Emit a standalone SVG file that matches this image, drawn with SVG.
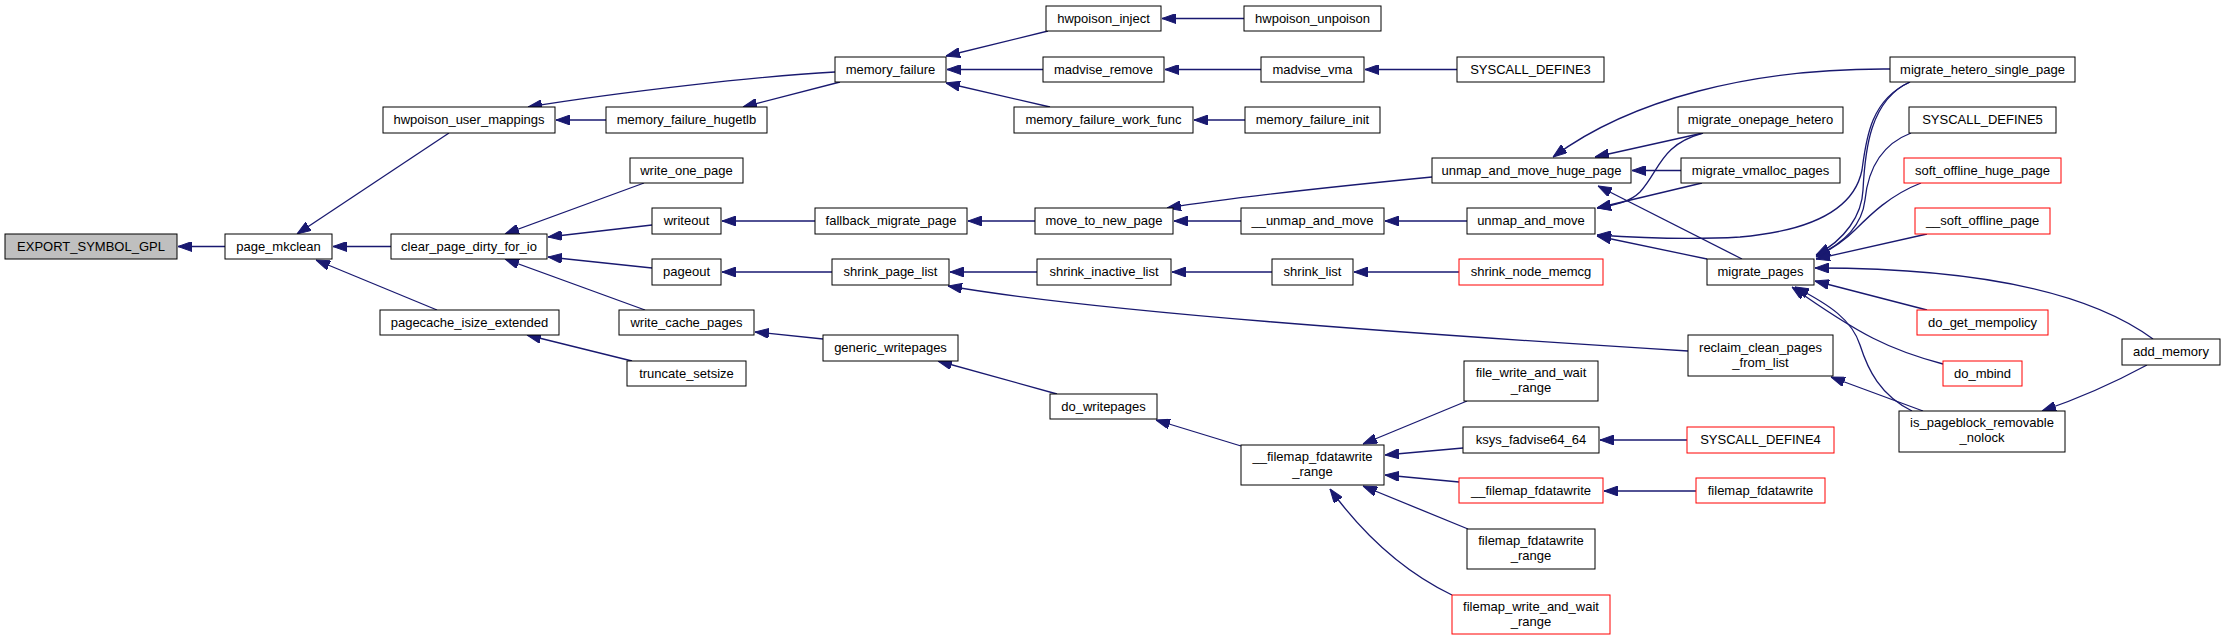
<svg xmlns="http://www.w3.org/2000/svg" width="2225" height="641" viewBox="0 0 2225 641">
<defs>
<style>
.node rect{fill:#fff;stroke:#000;stroke-width:1}
.node.root rect{fill:#bfbfbf}
.node.red rect{stroke:#ff0000}
.node text{font-family:"Liberation Sans",Arial,sans-serif;font-size:13px;fill:#000;text-anchor:middle}
.edges path{fill:none;stroke:#191970;stroke-width:1.3;marker-end:url(#ah)}
</style>
<marker id="ah" markerUnits="userSpaceOnUse" markerWidth="14" markerHeight="10" refX="14" refY="5" orient="auto">
<path d="M0,0 L14,5 L0,10 Z" fill="#191970" stroke="#191970" stroke-width="1"/>
</marker>
</defs>
<rect width="2225" height="641" fill="#fff"/>
<g id="edges" class="edges">
<path d="M225,246.5 L178,246.5"/>
<path d="M449,133 L297,234"/>
<path d="M391,246.5 L333,246.5"/>
<path d="M437,310 L316,260"/>
<path d="M835,72 C760,76 620,92 528,107"/>
<path d="M606,120 L556,120"/>
<path d="M840,82 L743,107"/>
<path d="M644,183 L505,234"/>
<path d="M652,225 L548,237"/>
<path d="M652,268 L548,257"/>
<path d="M645,310 L505,259"/>
<path d="M815,221 L722,221"/>
<path d="M832,272 L722,272"/>
<path d="M632,361 L527,335"/>
<path d="M823,339 L755,332"/>
<path d="M1057,394 L938,361"/>
<path d="M1048,31 L946,56"/>
<path d="M1043,69.5 L947,69.5"/>
<path d="M1050,107 L946,83"/>
<path d="M1035,221 L968,221"/>
<path d="M1037,272 L950,272"/>
<path d="M1688,351 C1400,333 1100,312 948,286"/>
<path d="M1244,18.5 L1162,18.5"/>
<path d="M1261,69.5 L1165,69.5"/>
<path d="M1457,69.5 L1365,69.5"/>
<path d="M1245,120 L1194,120"/>
<path d="M1432,177 C1340,186 1240,196 1167,208"/>
<path d="M1241,221 L1174,221"/>
<path d="M1467,221 L1385,221"/>
<path d="M1272,272 L1172,272"/>
<path d="M1459,272 L1354,272"/>
<path d="M1241,446 L1156,420"/>
<path d="M1467,401 L1363,444"/>
<path d="M1463,448 L1385,455"/>
<path d="M1459,482 L1385,475"/>
<path d="M1468,529 L1363,486"/>
<path d="M1452,595 C1400,570 1360,530 1330,489"/>
<path d="M1687,440 L1600,440"/>
<path d="M1696,491 L1604,491"/>
<path d="M1890,69 C1750,68 1630,100 1553,157"/>
<path d="M1703,133 L1595,157"/>
<path d="M1681,170.5 L1632,170.5"/>
<path d="M1742,259 L1598,186"/>
<path d="M1703,133 C1660,145 1660,170 1640,192 C1630,202 1615,205 1597,208"/>
<path d="M1702,183 L1597,208"/>
<path d="M1910,82 C1870,100 1866,140 1862,170 C1855,205 1820,230 1740,237 C1690,240 1640,238 1597,235"/>
<path d="M1707,259 L1597,236"/>
<path d="M1910,82 C1870,100 1865,150 1863,190 C1862,215 1845,240 1816,255"/>
<path d="M1911,133 C1880,145 1868,170 1865,200 C1862,225 1845,243 1816,256"/>
<path d="M1921,183 C1890,195 1870,215 1855,230 C1845,240 1830,250 1816,257"/>
<path d="M1927,234 L1816,259"/>
<path d="M2153,339 C2100,300 2000,268 1815,268"/>
<path d="M1927,310 L1815,281"/>
<path d="M1943,364 C1890,350 1860,335 1792,287"/>
<path d="M1912,411 C1880,395 1868,370 1860,345 C1852,320 1830,305 1795,287"/>
<path d="M1923,411 L1831,377"/>
<path d="M2147,365 C2110,385 2080,398 2042,411"/>
</g>
<g id="n_export_symbol_gpl" class="node root"><rect x="5" y="234" width="172" height="25"/><text x="91" y="251">EXPORT_SYMBOL_GPL</text></g>
<g id="n_page_mkclean" class="node"><rect x="225" y="234" width="107" height="25"/><text x="278.5" y="251">page_mkclean</text></g>
<g id="n_hwpoison_user_mappings" class="node"><rect x="383" y="107" width="172" height="26"/><text x="469" y="124">hwpoison_user_mappings</text></g>
<g id="n_clear_page_dirty_for_io" class="node"><rect x="391" y="234" width="156" height="25"/><text x="469" y="251">clear_page_dirty_for_io</text></g>
<g id="n_pagecache_isize_extended" class="node"><rect x="380" y="310" width="179" height="25"/><text x="469.5" y="327">pagecache_isize_extended</text></g>
<g id="n_memory_failure_hugetlb" class="node"><rect x="606" y="107" width="161" height="26"/><text x="686.5" y="124">memory_failure_hugetlb</text></g>
<g id="n_write_one_page" class="node"><rect x="630" y="158" width="113" height="25"/><text x="686.5" y="175">write_one_page</text></g>
<g id="n_writeout" class="node"><rect x="652" y="208" width="69" height="26"/><text x="686.5" y="225">writeout</text></g>
<g id="n_pageout" class="node"><rect x="652" y="259" width="69" height="26"/><text x="686.5" y="276">pageout</text></g>
<g id="n_write_cache_pages" class="node"><rect x="619" y="310" width="135" height="25"/><text x="686.5" y="327">write_cache_pages</text></g>
<g id="n_truncate_setsize" class="node"><rect x="627" y="361" width="119" height="25"/><text x="686.5" y="378">truncate_setsize</text></g>
<g id="n_memory_failure" class="node"><rect x="835" y="57" width="111" height="25"/><text x="890.5" y="74">memory_failure</text></g>
<g id="n_fallback_migrate_page" class="node"><rect x="815" y="208" width="152" height="26"/><text x="891" y="225">fallback_migrate_page</text></g>
<g id="n_shrink_page_list" class="node"><rect x="832" y="259" width="117" height="26"/><text x="890.5" y="276">shrink_page_list</text></g>
<g id="n_generic_writepages" class="node"><rect x="823" y="335" width="135" height="26"/><text x="890.5" y="352">generic_writepages</text></g>
<g id="n_do_writepages" class="node"><rect x="1050" y="394" width="107" height="25"/><text x="1103.5" y="411">do_writepages</text></g>
<g id="n_hwpoison_inject" class="node"><rect x="1046" y="6" width="115" height="25"/><text x="1103.5" y="23">hwpoison_inject</text></g>
<g id="n_madvise_remove" class="node"><rect x="1043" y="57" width="121" height="25"/><text x="1103.5" y="74">madvise_remove</text></g>
<g id="n_memory_failure_work_func" class="node"><rect x="1014" y="107" width="179" height="26"/><text x="1103.5" y="124">memory_failure_work_func</text></g>
<g id="n_move_to_new_page" class="node"><rect x="1035" y="208" width="138" height="26"/><text x="1104" y="225">move_to_new_page</text></g>
<g id="n_shrink_inactive_list" class="node"><rect x="1037" y="259" width="134" height="26"/><text x="1104" y="276">shrink_inactive_list</text></g>
<g id="n_hwpoison_unpoison" class="node"><rect x="1244" y="6" width="137" height="25"/><text x="1312.5" y="23">hwpoison_unpoison</text></g>
<g id="n_madvise_vma" class="node"><rect x="1261" y="57" width="103" height="25"/><text x="1312.5" y="74">madvise_vma</text></g>
<g id="n_memory_failure_init" class="node"><rect x="1245" y="107" width="135" height="26"/><text x="1312.5" y="124">memory_failure_init</text></g>
<g id="n___unmap_and_move" class="node"><rect x="1241" y="208" width="143" height="26"/><text x="1312.5" y="225">__unmap_and_move</text></g>
<g id="n_shrink_list" class="node"><rect x="1272" y="259" width="81" height="26"/><text x="1312.5" y="276">shrink_list</text></g>
<g id="n___filemap_fdatawrite_range" class="node"><rect x="1241" y="445" width="143" height="40"/><text x="1312.5" y="461">__filemap_fdatawrite</text><text x="1312.5" y="476">_range</text></g>
<g id="n_syscall_define3" class="node"><rect x="1457" y="57" width="147" height="25"/><text x="1530.5" y="74">SYSCALL_DEFINE3</text></g>
<g id="n_unmap_and_move_huge_page" class="node"><rect x="1432" y="158" width="199" height="25"/><text x="1531.5" y="175">unmap_and_move_huge_page</text></g>
<g id="n_unmap_and_move" class="node"><rect x="1467" y="208" width="128" height="26"/><text x="1531" y="225">unmap_and_move</text></g>
<g id="n_shrink_node_memcg" class="node red"><rect x="1459" y="259" width="144" height="26"/><text x="1531" y="276">shrink_node_memcg</text></g>
<g id="n_file_write_and_wait_range" class="node"><rect x="1464" y="361" width="134" height="40"/><text x="1531" y="377">file_write_and_wait</text><text x="1531" y="392">_range</text></g>
<g id="n_ksys_fadvise64_64" class="node"><rect x="1463" y="427" width="136" height="26"/><text x="1531" y="444">ksys_fadvise64_64</text></g>
<g id="n___filemap_fdatawrite" class="node red"><rect x="1459" y="478" width="144" height="25"/><text x="1531" y="495">__filemap_fdatawrite</text></g>
<g id="n_filemap_fdatawrite_range" class="node"><rect x="1467" y="529" width="128" height="40"/><text x="1531" y="545">filemap_fdatawrite</text><text x="1531" y="560">_range</text></g>
<g id="n_filemap_write_and_wait_range" class="node red"><rect x="1452" y="595" width="158" height="39"/><text x="1531" y="611">filemap_write_and_wait</text><text x="1531" y="626">_range</text></g>
<g id="n_migrate_onepage_hetero" class="node"><rect x="1678" y="107" width="165" height="26"/><text x="1760.5" y="124">migrate_onepage_hetero</text></g>
<g id="n_migrate_vmalloc_pages" class="node"><rect x="1681" y="158" width="159" height="25"/><text x="1760.5" y="175">migrate_vmalloc_pages</text></g>
<g id="n_migrate_pages" class="node"><rect x="1707" y="259" width="107" height="26"/><text x="1760.5" y="276">migrate_pages</text></g>
<g id="n_reclaim_clean_pages_from_list" class="node"><rect x="1688" y="335" width="145" height="41"/><text x="1760.5" y="352">reclaim_clean_pages</text><text x="1760.5" y="367">_from_list</text></g>
<g id="n_syscall_define4" class="node red"><rect x="1687" y="427" width="147" height="26"/><text x="1760.5" y="444">SYSCALL_DEFINE4</text></g>
<g id="n_filemap_fdatawrite" class="node red"><rect x="1696" y="478" width="129" height="25"/><text x="1760.5" y="495">filemap_fdatawrite</text></g>
<g id="n_migrate_hetero_single_page" class="node"><rect x="1890" y="57" width="185" height="25"/><text x="1982.5" y="74">migrate_hetero_single_page</text></g>
<g id="n_syscall_define5" class="node"><rect x="1909" y="107" width="147" height="26"/><text x="1982.5" y="124">SYSCALL_DEFINE5</text></g>
<g id="n_soft_offline_huge_page" class="node red"><rect x="1904" y="158" width="157" height="25"/><text x="1982.5" y="175">soft_offline_huge_page</text></g>
<g id="n___soft_offline_page" class="node red"><rect x="1915" y="208" width="135" height="26"/><text x="1982.5" y="225">__soft_offline_page</text></g>
<g id="n_do_get_mempolicy" class="node red"><rect x="1917" y="310" width="131" height="25"/><text x="1982.5" y="327">do_get_mempolicy</text></g>
<g id="n_do_mbind" class="node red"><rect x="1943" y="361" width="79" height="25"/><text x="1982.5" y="378">do_mbind</text></g>
<g id="n_is_pageblock_removable_nolock" class="node"><rect x="1899" y="411" width="166" height="41"/><text x="1982" y="427">is_pageblock_removable</text><text x="1982" y="442">_nolock</text></g>
<g id="n_add_memory" class="node"><rect x="2122" y="339" width="98" height="26"/><text x="2171" y="356">add_memory</text></g>
</svg>
